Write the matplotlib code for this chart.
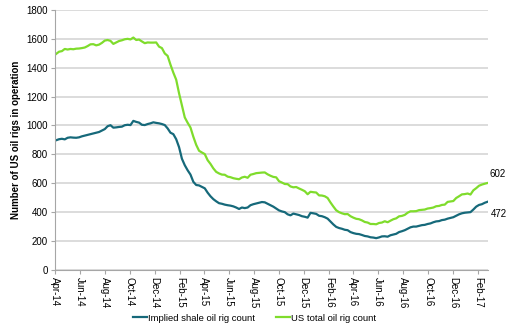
import matplotlib
matplotlib.use("Agg")
import matplotlib.pyplot as plt
import matplotlib.dates as mdates
import pandas as pd

# weekly rig counts, Friday reports, Apr 2014 - Feb 2017
weeks = pd.date_range("2014-04-04", periods=152, freq="7D")

us_total = [
    1496, 1511, 1515, 1530, 1526, 1530, 1528, 1532, 1533, 1536, 1540, 1550, 1562,
    1563, 1555, 1560, 1572, 1588, 1592, 1586, 1565, 1575, 1585, 1590, 1597, 1600,
    1596, 1609, 1592, 1595, 1582, 1570, 1575, 1574, 1574, 1575, 1546, 1536, 1499,
    1482, 1421, 1366, 1317, 1223, 1140, 1056, 1019, 986, 922, 866, 825, 813,
    802, 760, 734, 703, 679, 668, 660, 659, 646, 642, 635, 631, 628,
    640, 645, 638, 659, 664, 670, 672, 674, 675, 662, 652, 644, 641,
    614, 605, 595, 594, 578, 572, 574, 564, 555, 545, 524, 541, 538, 536,
    516, 515, 510, 498, 467, 439, 413, 400, 392, 386, 387, 372,
    362, 354, 351, 343, 332, 328, 318, 318, 316, 325, 328, 337, 330,
    341, 351, 357, 371, 374, 381, 396, 406, 406, 407, 414, 416, 418, 425,
    428, 432, 441, 443, 450, 452, 471, 474, 477, 498, 510, 523, 525,
    529, 522, 551, 566, 583, 591, 597, 602,
]

shale = [
    898, 905, 908, 904, 915, 918, 916, 915, 918, 925, 930, 935, 940,
    945, 950, 955, 965, 975, 995, 1002, 985, 987, 990, 992, 1002, 1005,
    1003, 1032, 1025, 1020, 1005, 1003, 1010, 1015, 1022, 1018, 1015, 1010, 1003,
    980, 950, 940, 905, 850, 770, 725, 690, 660, 610, 588, 585, 575,
    565, 535, 510, 490, 475, 462, 458, 452, 448, 445, 440, 432, 422,
    432, 428, 432, 448, 455, 460, 465, 470, 468, 458, 448, 438, 425,
    412, 405, 400, 385, 378, 390, 385, 380, 372, 368, 362, 395, 392, 388,
    375, 372, 365, 355, 335, 315, 298, 290, 285, 278, 275, 262,
    255, 250, 248, 242, 235, 232, 226, 224, 220, 225, 232, 233, 230,
    240, 245, 250, 262, 268, 275, 285, 295, 300, 300, 305, 310, 312, 318,
    322, 330, 336, 338, 345, 348, 355, 360, 365, 375, 385, 392, 396,
    398, 400, 418, 438, 450, 455, 465, 472,
]

teal = "#16697a"
green = "#7fdc2c"
grid_grey = "#d9d9d9"
axis_grey = "#a6a6a6"

plt.rcParams["font.family"] = ["Liberation Sans", "DejaVu Sans"]

fig = plt.figure(figsize=(5.09, 3.32), dpi=100)
ax = fig.add_axes([0.108, 0.187, 0.850, 0.783])

ax.plot(weeks, shale, color=teal, lw=1.6, label="Implied shale oil rig count")
ax.plot(weeks, us_total, color=green, lw=1.6, label="US total oil rig count")

ax.set_ylim(0, 1800)
ax.set_yticks(range(0, 1801, 200))
ax.set_xlim(pd.Timestamp("2014-04-01"), pd.Timestamp("2017-02-24"))
ax.xaxis.set_major_locator(mdates.MonthLocator(bymonth=(2, 4, 6, 8, 10, 12)))
ax.xaxis.set_major_formatter(mdates.DateFormatter("%b-%y"))

ax.grid(axis="y", color=grid_grey, lw=1.3)
ax.set_axisbelow(True)
for side in ("top", "right"):
    ax.spines[side].set_visible(False)
for side in ("left", "bottom"):
    ax.spines[side].set_color(axis_grey)
    ax.spines[side].set_linewidth(0.8)

ax.tick_params(axis="y", labelsize=7, length=3, color=axis_grey, pad=2)
ax.tick_params(axis="x", labelsize=7, length=3, color=axis_grey, pad=2, labelrotation=-90)

ax.set_ylabel("Number of US oil rigs in operation", fontsize=7, fontweight="bold", labelpad=4)

# end-of-series labels
ax.annotate(str(us_total[-1]), xy=(weeks[-1], us_total[-1]), xytext=(2, 9),
            textcoords="offset pixels", fontsize=7, va="center", ha="left",
            annotation_clip=False)
ax.annotate(str(shale[-1]), xy=(weeks[-1], shale[-1]), xytext=(3, -12),
            textcoords="offset pixels", fontsize=7, va="center", ha="left",
            annotation_clip=False)

fig.legend(loc="center", bbox_to_anchor=(0.50, 0.042), ncol=2, frameon=False,
           fontsize=6.8, handlelength=1.5, handletextpad=0.1, columnspacing=2.2)

fig.savefig("out.png", dpi=100)
